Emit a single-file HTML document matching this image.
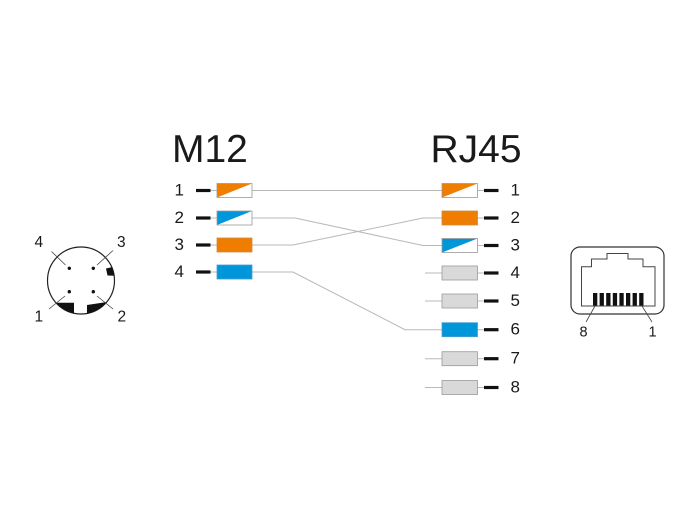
<!DOCTYPE html>
<html><head><meta charset="utf-8"><style>
html,body{margin:0;padding:0;background:#fff;}
svg{display:block;}
text{font-family:"Liberation Sans",Arial,sans-serif;fill:#1a1a1a;}
</style></head><body>
<svg width="700" height="530" viewBox="0 0 700 530" xmlns="http://www.w3.org/2000/svg">
<defs>
<clipPath id="circ"><circle cx="81" cy="280.5" r="33.5"/></clipPath>
</defs>
<rect width="700" height="530" fill="#fff"/>

<!-- Titles -->
<text x="172" y="162" font-size="39">M12</text>
<text x="430.5" y="162" font-size="39">RJ45</text>

<!-- Connection lines -->
<g stroke="#b8b8b8" stroke-width="1" fill="none">
  <polyline points="252,190.5 442,190.5"/>
  <polyline points="252,218 295,218 423,245.5 442,245.5"/>
  <polyline points="252,245 293,245 423,218 442,218"/>
  <polyline points="252,272 293,272 405,329.7 442,329.7"/>
  <line x1="425" y1="273" x2="442" y2="273"/>
  <line x1="425" y1="301" x2="442" y2="301"/>
  <line x1="425" y1="358.7" x2="442" y2="358.7"/>
  <line x1="425" y1="387.5" x2="442" y2="387.5"/>
  <line x1="210" y1="190.5" x2="217" y2="190.5"/>
  <line x1="210" y1="218" x2="217" y2="218"/>
  <line x1="210" y1="245" x2="217" y2="245"/>
  <line x1="210" y1="272" x2="217" y2="272"/>
  <line x1="477" y1="190.5" x2="484" y2="190.5"/>
  <line x1="477" y1="218" x2="484" y2="218"/>
  <line x1="477" y1="245.5" x2="484" y2="245.5"/>
  <line x1="477" y1="273" x2="484" y2="273"/>
  <line x1="477" y1="301" x2="484" y2="301"/>
  <line x1="477" y1="329.7" x2="484" y2="329.7"/>
  <line x1="477" y1="358.7" x2="484" y2="358.7"/>
  <line x1="477" y1="387.5" x2="484" y2="387.5"/>
</g>

<!-- M12 side -->
<g>
  <text x="174.5" y="195.5" font-size="17">1</text>
  <text x="174.5" y="223" font-size="17">2</text>
  <text x="174.5" y="250" font-size="17">3</text>
  <text x="174.5" y="277" font-size="17">4</text>
  <g fill="#111">
    <rect x="196" y="188.9" width="14.5" height="3.2"/>
    <rect x="196" y="216.4" width="14.5" height="3.2"/>
    <rect x="196" y="243.4" width="14.5" height="3.2"/>
    <rect x="196" y="270.4" width="14.5" height="3.2"/>
  </g>
  <rect x="217" y="183.5" width="35" height="14" fill="#fff"/>
  <polygon points="217,183.5 252,183.5 217,197.5" fill="#ef7d00"/>
  <rect x="217" y="183.5" width="35" height="14" fill="none" stroke="#9a9a9a" stroke-width="0.8"/>
  <rect x="217" y="211" width="35" height="14" fill="#fff"/>
  <polygon points="217,211 252,211 217,225" fill="#0096da"/>
  <rect x="217" y="211" width="35" height="14" fill="none" stroke="#9a9a9a" stroke-width="0.8"/>
  <rect x="217" y="238" width="35" height="14" fill="#ef7d00" stroke="#d08a40" stroke-width="0.8"/>
  <rect x="217" y="265" width="35" height="14" fill="#0096da" stroke="#4a9ed0" stroke-width="0.8"/>
</g>

<!-- RJ45 side -->
<g>
  <rect x="442" y="183.5" width="35.5" height="14" fill="#fff"/>
  <polygon points="442,183.5 477.5,183.5 442,197.5" fill="#ef7d00"/>
  <rect x="442" y="183.5" width="35.5" height="14" fill="none" stroke="#9a9a9a" stroke-width="0.8"/>
  <rect x="442" y="211" width="35.5" height="14" fill="#ef7d00" stroke="#d08a40" stroke-width="0.8"/>
  <rect x="442" y="238.5" width="35.5" height="14" fill="#fff"/>
  <polygon points="442,238.5 477.5,238.5 442,252.5" fill="#0096da"/>
  <rect x="442" y="238.5" width="35.5" height="14" fill="none" stroke="#9a9a9a" stroke-width="0.8"/>
  <rect x="442" y="266" width="35.5" height="14" fill="#d9d9d9" stroke="#9a9a9a" stroke-width="0.8"/>
  <rect x="442" y="294" width="35.5" height="14" fill="#d9d9d9" stroke="#9a9a9a" stroke-width="0.8"/>
  <rect x="442" y="322.7" width="35.5" height="14" fill="#0096da" stroke="#4a9ed0" stroke-width="0.8"/>
  <rect x="442" y="351.7" width="35.5" height="14" fill="#d9d9d9" stroke="#9a9a9a" stroke-width="0.8"/>
  <rect x="442" y="380.5" width="35.5" height="14" fill="#d9d9d9" stroke="#9a9a9a" stroke-width="0.8"/>
  <g fill="#111">
    <rect x="484" y="188.9" width="14.5" height="3.2"/>
    <rect x="484" y="216.4" width="14.5" height="3.2"/>
    <rect x="484" y="243.9" width="14.5" height="3.2"/>
    <rect x="484" y="271.4" width="14.5" height="3.2"/>
    <rect x="484" y="299.4" width="14.5" height="3.2"/>
    <rect x="484" y="328.1" width="14.5" height="3.2"/>
    <rect x="484" y="357.1" width="14.5" height="3.2"/>
    <rect x="484" y="385.9" width="14.5" height="3.2"/>
  </g>
  <text x="510.5" y="195.5" font-size="17">1</text>
  <text x="510.5" y="223" font-size="17">2</text>
  <text x="510.5" y="250.5" font-size="17">3</text>
  <text x="510.5" y="278" font-size="17">4</text>
  <text x="510.5" y="306" font-size="17">5</text>
  <text x="510.5" y="334.7" font-size="17">6</text>
  <text x="510.5" y="363.7" font-size="17">7</text>
  <text x="510.5" y="392.5" font-size="17">8</text>
</g>

<!-- M12 connector face -->
<g>
  <circle cx="81" cy="280.5" r="33.5" fill="#fff" stroke="#222" stroke-width="1.2"/>
  <g clip-path="url(#circ)" fill="#111">
    <polygon points="40,302.7 74,302.7 74,320 40,320"/>
    <polygon points="87,305 120,300 120,320 87,320"/>
    <polygon points="106,268.5 112.5,267 120,267 120,276 107.5,275.5"/>
  </g>
  <g fill="#111">
    <circle cx="69.3" cy="268.3" r="1.7"/>
    <circle cx="93.3" cy="268.3" r="1.7"/>
    <circle cx="69.3" cy="291.7" r="1.7"/>
    <circle cx="93.3" cy="291.7" r="1.7"/>
  </g>
  <g stroke="#444" stroke-width="0.8">
    <line x1="51.5" y1="251.5" x2="65.5" y2="265"/>
    <line x1="113" y1="250.5" x2="97" y2="265"/>
    <line x1="49" y1="309" x2="65" y2="296"/>
    <line x1="113" y1="309" x2="97" y2="296"/>
  </g>
  <text x="34.5" y="247" font-size="15.5">4</text>
  <text x="117" y="247" font-size="15.5">3</text>
  <text x="34.5" y="321.7" font-size="15.5">1</text>
  <text x="117.5" y="321.7" font-size="15.5">2</text>
</g>

<!-- RJ45 jack face -->
<g>
  <rect x="571" y="247" width="93" height="67" rx="9" ry="9" fill="#fff" stroke="#333" stroke-width="1.2"/>
  <polygon points="581.5,306 581.5,266.7 591.5,266.7 591.5,259 607,259 607,253.5 628,253.5 628,259 643,259 643,266.7 655,266.7 655,306" fill="none" stroke="#444" stroke-width="1"/>
  <g fill="#111">
    <rect x="593" y="293" width="4.3" height="12.5"/>
    <rect x="599.6" y="293" width="4.3" height="12.5"/>
    <rect x="606.2" y="293" width="4.3" height="12.5"/>
    <rect x="612.8" y="293" width="4.3" height="12.5"/>
    <rect x="619.4" y="293" width="4.3" height="12.5"/>
    <rect x="626" y="293" width="4.3" height="12.5"/>
    <rect x="632.6" y="293" width="4.3" height="12.5"/>
    <rect x="639.2" y="293" width="4.3" height="12.5"/>
  </g>
  <g stroke="#444" stroke-width="0.8">
    <line x1="595" y1="306" x2="586" y2="322"/>
    <line x1="642" y1="306" x2="652" y2="322"/>
  </g>
  <text x="579.5" y="336.7" font-size="14.5">8</text>
  <text x="648.5" y="336.7" font-size="14.5">1</text>
</g>
</svg>
</body></html>
